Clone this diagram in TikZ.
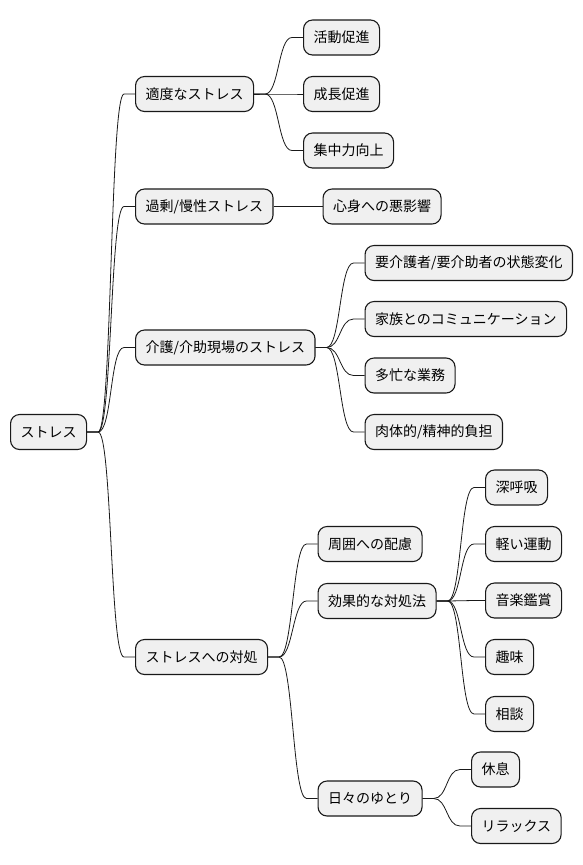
\documentclass[tikz,border=0pt]{standalone}
\usepackage{fontspec}
\newfontfamily\jpfont{Noto Sans CJK JP}
\tikzset{
  topic/.style={draw=black!90,fill=black!6,line width=1.1pt,rounded corners=9pt,
    minimum height=35pt,inner xsep=10pt,inner ysep=0pt,anchor=west,
    font=\jpfont\fontsize{14}{16}\selectfont},
  branch/.style={line width=0.8pt,black!90}
}
\begin{document}
\begin{tikzpicture}[x=1pt,y=-1pt]
\useasboundingbox (0,0) rectangle (582,865);
% root and first level
\node[topic](root) at (10,432) {ストレス};
\node[topic](mod) at (135,94) {適度なストレス};
\node[topic](over) at (135,206.5) {過剰/慢性ストレス};
\node[topic](care) at (135,347.5) {介護/介助現場のストレス};
\node[topic](cope) at (135,657) {ストレスへの対処};
% moderate stress
\node[topic](act) at (303,37.5) {活動促進};
\node[topic](grow) at (303,94) {成長促進};
\node[topic](focus) at (303,150.5) {集中力向上};
% excessive stress
\node[topic](harm) at (322.5,206.5) {心身への悪影響};
% care work
\node[topic](cs1) at (364.5,263) {要介護者/要介助者の状態変化};
\node[topic](cs2) at (364.5,319) {家族とのコミュニケーション};
\node[topic](cs3) at (364.5,375.5) {多忙な業務};
\node[topic](cs4) at (364.5,432) {肉体的/精神的負担};
% coping
\node[topic](surr) at (317.5,544) {周囲への配慮};
\node[topic](eff) at (317.5,601) {効果的な対処法};
\node[topic](daily) at (317.5,798.5) {日々のゆとり};
\node[topic](breath) at (485,487.5) {深呼吸};
\node[topic](exer) at (485,544) {軽い運動};
\node[topic](music) at (485,600.5) {音楽鑑賞};
\node[topic](hobby) at (485,657) {趣味};
\node[topic](talk) at (485,714) {相談};
\node[topic](rest) at (471,769.5) {休息};
\node[topic](relax) at (471,826) {リラックス};
% branches
\foreach \p/\c in {root/mod,root/over,root/care,root/cope,
  mod/act,mod/grow,mod/focus,over/harm,
  care/cs1,care/cs2,care/cs3,care/cs4,
  cope/surr,cope/eff,cope/daily,
  eff/breath,eff/exer,eff/music,eff/hobby,eff/talk,
  daily/rest,daily/relax}
  \draw[branch](\p.east)--++(11,0) .. controls +(14,0) and +(-14,0) .. ([xshift=-11pt]\c.west)--(\c.west);
\end{tikzpicture}
\end{document}
